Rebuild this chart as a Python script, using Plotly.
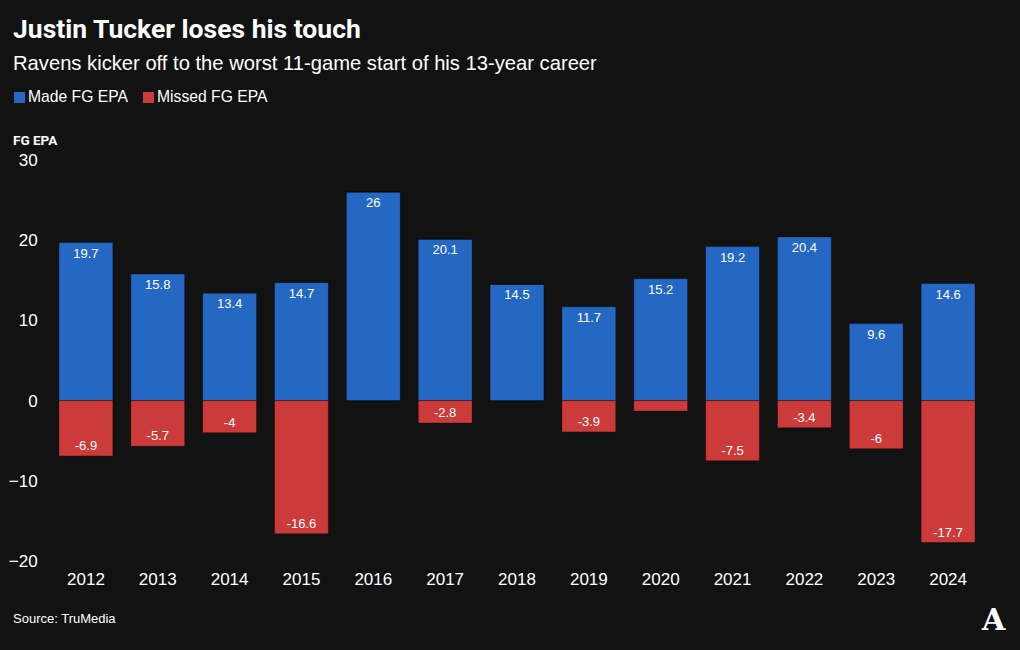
import plotly.graph_objects as go

years = ["2012", "2013", "2014", "2015", "2016", "2017", "2018",
         "2019", "2020", "2021", "2022", "2023", "2024"]
made_epa = [19.7, 15.8, 13.4, 14.7, 26, 20.1, 14.5, 11.7, 15.2, 19.2, 20.4, 9.6, 14.6]
missed_epa = [-6.9, -5.7, -4, -16.6, 0, -2.8, 0, -3.9, -1.3, -7.5, -3.4, -6, -17.7]
y_ticks = [-20, -10, 0, 10, 20, 30]

BG = "#121212"
BLUE = "#2468c4"
RED = "#cc3a3a"
BOLD = "Roboto, Liberation Sans, Arial, sans-serif"
SANS = "Liberation Sans, Arial, sans-serif"

W_, H_ = 1020, 650
L, R, T, B = 50, 984, 160, 561
PW, PH = R - L, B - T


def px(x):
    return (x - L) / PW


def py(y):
    return (B - y) / PH


def lbl(v):
    return "" if v == 0 else f"{v:g}"


fig = go.Figure()
fig.add_trace(go.Bar(
    x=years, y=made_epa, name="Made FG EPA",
    marker=dict(color=BLUE, line=dict(color="rgba(0,0,0,0.35)", width=1)),
    text=[lbl(v) for v in made_epa], textposition="inside",
    insidetextanchor="end", textangle=0,
    textfont=dict(color="white", size=13, family=SANS),
))
fig.add_trace(go.Bar(
    x=years, y=missed_epa, name="Missed FG EPA",
    marker=dict(color=RED, line=dict(color="rgba(0,0,0,0.35)", width=1)),
    text=[lbl(v) for v in missed_epa], textposition="inside",
    insidetextanchor="end", textangle=0,
    textfont=dict(color="white", size=13, family=SANS),
))


def ann(text, x, y, size, family=SANS, xanchor="left"):
    return dict(text=text, x=px(x - 3), y=py(y), xref="paper", yref="paper",
                xanchor=xanchor, yanchor="middle", showarrow=False,
                font=dict(family=family, size=size, color="white"))


annotations = [
    ann("<b>Justin Tucker loses his touch</b>", 14, 28, 26.5, BOLD),
    ann("Ravens kicker off to the worst 11-game start of his 13-year career", 14, 63, 20.2),
    ann("Made FG EPA", 29, 97, 15.7),
    ann("Missed FG EPA", 158, 97, 15.7),
    ann("<b>FG EPA</b>", 14, 140, 13.5, BOLD),
    ann("Source: TruMedia", 14, 618, 13),
    ann("<b>A</b>", 996, 619, 30, "DejaVu Serif, serif", "center"),
]

shapes = [
    dict(type="rect", xref="paper", yref="paper", x0=px(14), x1=px(25),
         y0=py(103), y1=py(92), fillcolor=BLUE, line=dict(width=0)),
    dict(type="rect", xref="paper", yref="paper", x0=px(143), x1=px(154),
         y0=py(103), y1=py(92), fillcolor=RED, line=dict(width=0)),
]

fig.update_layout(
    width=W_, height=H_,
    paper_bgcolor=BG, plot_bgcolor=BG,
    margin=dict(l=L, r=W_ - R, t=T, b=H_ - B, pad=0),
    barmode="relative", bargap=0.25,
    showlegend=False,
    uniformtext=dict(minsize=13, mode="hide"),
    annotations=annotations, shapes=shapes,
    font=dict(family=SANS, color="white"),
    xaxis=dict(showgrid=False, zeroline=False, showline=False, automargin=False,
               tickfont=dict(size=17, color="white", family=SANS),
               ticks="outside", ticklen=3, tickcolor="rgba(0,0,0,0)"),
    yaxis=dict(range=[-20, 30], tickvals=y_ticks, showgrid=False, zeroline=False,
               showline=False, automargin=False,
               tickfont=dict(size=17, color="white", family=SANS),
               ticks="outside", ticklen=8, tickcolor="rgba(0,0,0,0)"),
)

fig.write_html(
    "out.html",
    config={"displayModeBar": False},
    post_script="document.body.style.margin='0';document.body.style.background='#121212';",
)
